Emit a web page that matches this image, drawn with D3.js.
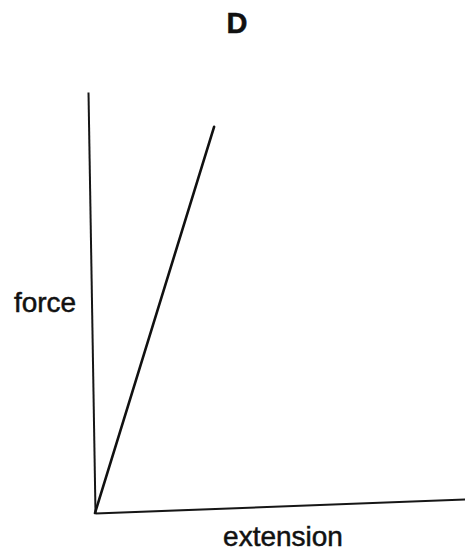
<!DOCTYPE html>
<html>
<head>
<meta charset="utf-8">
<script src="https://cdn.jsdelivr.net/npm/d3@7"></script>
<style>
  body { margin: 0; background: #fff; }
  text { font-family: "Liberation Sans", Arial, sans-serif; fill: #111; stroke: #111; stroke-width: 0.5px; }
</style>
</head>
<body>
<script>
// chart data
const title = "D";
const xLabel = "extension";
const yLabel = "force";
const lineX = [0, 3.39];
const lineY = [0, 9.06];

const w = 465, h = 553;
const xLen = 370, yLen = 421;

const svg = d3.select("body")
    .append("svg")
    .attr("width", w)
    .attr("height", h);

// scales (local frame, y grows upward as negative)
const xScale = d3.scaleLinear().domain([0, 10]).range([0, xLen]);
const yScale = d3.scaleLinear().domain([0, 10]).range([0, -yLen]);

// the scanned axes are a little skewed, so the plot frame is too
const plot = svg.append("g")
    .attr("transform", "matrix(1,-0.03784,0.01663,1,95,513)");

const xAxis = d3.axisBottom(xScale).tickValues([]).tickSizeOuter(0);
plot.append("g")
    .attr("id", "x-axis")
    .call(xAxis)
    .select(".domain")
    .attr("stroke", "#161616")
    .attr("stroke-width", 2);

const yAxis = d3.axisLeft(yScale).tickValues([]).tickSizeOuter(0);
plot.append("g")
    .attr("id", "y-axis")
    .call(yAxis)
    .select(".domain")
    .attr("stroke", "#161616")
    .attr("stroke-width", 2);

const pts = lineX.map((d, i) => [d, lineY[i]]);
const line = d3.line()
    .x(d => xScale(d[0]))
    .y(d => yScale(d[1]));

plot.append("path")
    .datum(pts)
    .attr("d", line)
    .attr("fill", "none")
    .attr("stroke", "#111")
    .attr("stroke-width", 2.6)
    .attr("stroke-linecap", "round");

// texts
svg.append("text")
    .attr("x", 237)
    .attr("y", 33)
    .attr("text-anchor", "middle")
    .style("font-size", "29px")
    .style("font-weight", "bold")
    .text(title);

svg.append("text")
    .attr("x", 283)
    .attr("y", 546)
    .attr("text-anchor", "middle")
    .style("font-size", "28px")
    .text(xLabel);

svg.append("text")
    .attr("x", 45)
    .attr("y", 312)
    .attr("text-anchor", "middle")
    .style("font-size", "28px")
    .text(yLabel);
</script>
</body>
</html>
